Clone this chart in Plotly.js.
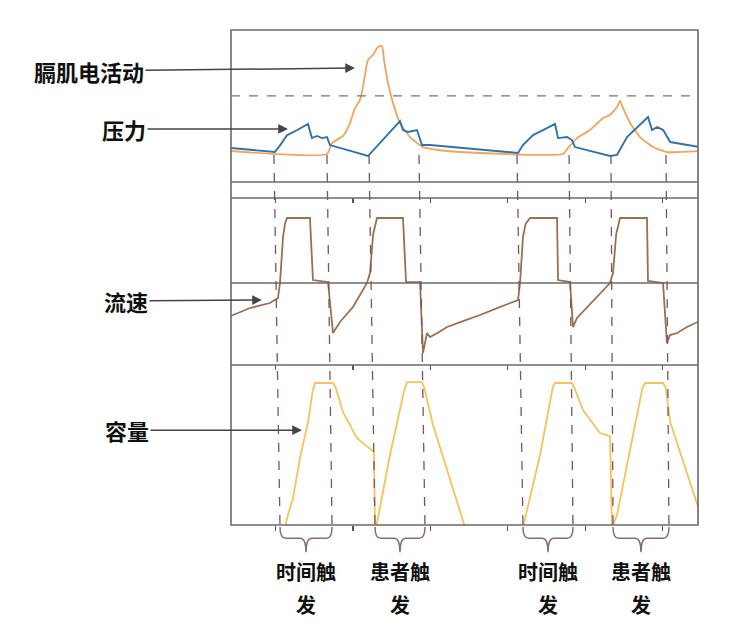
<!DOCTYPE html>
<html>
<head>
<meta charset="utf-8">
<script src="https://cdn.plot.ly/plotly-3.0.1.min.js"></script>
<style>html,body{margin:0;padding:0;background:#fff}#chart{width:737px;height:629px}</style>
</head>
<body>
<div id="chart"></div>
<script>
// time in s, one tick per second
const pressureT = [0.42, 0.99, 1.06, 1.15, 1.28, 1.42, 1.44, 1.47, 1.535, 1.6, 1.664, 1.703, 2.194, 2.388, 2.607, 2.646, 2.711, 2.827, 2.891, 2.995, 3.421, 4.132, 4.196, 4.326, 4.455, 4.61, 4.649, 4.765, 4.829, 4.868, 5.32, 5.411, 5.54, 5.811, 5.863, 5.93, 6.008, 6.098, 6.48];
const pressure = [2.24, 1.97, 2.43, 3.09, 3.42, 3.82, 3.42, 2.89, 3.03, 2.89, 2.96, 2.43, 1.71, 2.76, 4.01, 3.42, 3.29, 3.42, 2.43, 2.43, 2.24, 1.91, 2.43, 3.09, 3.42, 3.82, 2.89, 2.96, 2.76, 2.3, 1.71, 1.78, 2.96, 4.28, 3.42, 3.62, 3.42, 2.63, 2.3];

const eadiT = [0.42, 1.664, 1.729, 1.871, 1.961, 2.026, 2.09, 2.129, 2.194, 2.258, 2.323, 2.375, 2.401, 2.452, 2.517, 2.607, 2.736, 2.904, 3.215, 3.641, 4.713, 4.778, 4.894, 5.062, 5.23, 5.32, 5.411, 5.45, 5.488, 5.579, 5.708, 5.876, 6.059, 6.48];
const eadi = [2.04, 1.84, 2.57, 3.03, 3.88, 4.87, 5.39, 6.25, 8.03, 8.36, 8.88, 8.95, 8.03, 6.51, 5.2, 3.88, 2.96, 2.3, 2.04, 1.91, 1.84, 2.24, 2.89, 3.42, 4.21, 4.41, 4.93, 5.33, 4.87, 3.88, 2.96, 2.3, 1.97, 2.04];
const eadiThreshold = 5.66;

const flowT = [0.42, 0.669, 0.928, 1.031, 1.057, 1.096, 1.121, 1.147, 1.444, 1.483, 1.677, 1.742, 1.832, 2.0, 2.181, 2.22, 2.26, 2.31, 2.646, 2.685, 2.866, 2.904, 2.956, 2.995, 3.09, 3.215, 3.421, 3.641, 3.863, 4.132, 4.158, 4.196, 4.23, 4.287, 4.636, 4.649, 4.804, 4.842, 4.894, 5.152, 5.32, 5.359, 5.4, 5.45, 5.798, 5.811, 6.005, 6.056, 6.095, 6.186, 6.315, 6.48];
const flow = [-0.508, -0.385, -0.308, -0.231, 0, 0.708, 0.908, 1.0, 1.0, 0.046, 0.015, -0.769, -0.6, -0.369, 0, 0.154, 0.75, 1.0, 1.0, 0.015, 0.015, -1.077, -0.769, -0.831, -0.77, -0.677, -0.585, -0.492, -0.385, -0.262, 0, 0.708, 0.908, 1.0, 1.0, 0.046, 0.015, -0.677, -0.538, -0.215, 0, 0.154, 0.75, 1.0, 1.0, 0.031, 0, -0.923, -0.8, -0.769, -0.677, -0.585];

const volumeT = [1.121, 1.16, 1.225, 1.315, 1.419, 1.48, 1.509, 1.742, 1.78, 1.871, 2.052, 2.245, 2.271, 2.284, 2.31, 2.478, 2.66, 2.698, 2.891, 2.92, 3.034, 3.447, 4.196, 4.416, 4.58, 4.61, 4.829, 4.86, 4.971, 5.191, 5.32, 5.346, 5.411, 5.74, 5.775, 6.008, 6.04, 6.098, 6.48];
const volume = [-8, 35, 94, 234, 360, 470, 497, 497, 478, 395, 304, 262, 255, -8, 7, 245, 470, 500, 500, 480, 350, -8, -8, 245, 480, 497, 497, 480, 402, 322, 311, -8, 35, 480, 497, 497, 480, 360, 45];

const triggerTop = [0.979, 1.664, 2.207, 2.853, 4.119, 4.791, 5.333, 6.044];
const triggerBottom = [1.057, 1.729, 2.284, 2.93, 4.196, 4.842, 5.359, 6.082];
const triggerLabels = [["时间触", "发"], ["患者触", "发"], ["时间触", "发"], ["患者触", "发"]];
const tickTimes = [1, 2, 3, 4, 5, 6];
const xRange = [0.424, 6.457];

const cjk = "Noto Sans CJK SC, Noto Sans, sans-serif";
const frameColor = "#6a6a6a";
const dashColor = "#7a5560";
const braceColor = "#8c6a72";

const traces = [
  { x: eadiT, y: eadi, xaxis: "x", yaxis: "y", mode: "lines", line: { color: "#f0a45c", width: 1.8, shape: "spline", smoothing: 0.5 } },
  { x: pressureT, y: pressure, xaxis: "x", yaxis: "y", mode: "lines", line: { color: "#2f72ab", width: 1.9 } },
  { x: flowT, y: flow, xaxis: "x2", yaxis: "y2", mode: "lines", line: { color: "#9c6f4e", width: 1.8 } },
  { x: volumeT, y: volume, xaxis: "x3", yaxis: "y3", mode: "lines", line: { color: "#f5c35a", width: 1.8 } },
  { x: [], y: [], xaxis: "x4", yaxis: "y3", mode: "lines" },
];

const bare = { showgrid: false, zeroline: false, showline: false, showticklabels: false, fixedrange: true };
const tickAxis = (anchor, side, ticks) => ({
  ...bare, range: xRange, anchor: anchor, side: side, ticks: ticks,
  tickvals: tickTimes, ticklen: 5, tickwidth: 1.3, tickcolor: "#555",
});

const shapes = [
  { type: "rect", xref: "paper", yref: "paper", x0: 0, x1: 1, y0: 0, y1: 1, line: { color: frameColor, width: 1.6 } },
  { type: "line", xref: "paper", yref: "paper", x0: 0, x1: 1, y0: 0.6929, y1: 0.6929, line: { color: frameColor, width: 1.4 } },
  { type: "line", xref: "paper", yref: "paper", x0: 0, x1: 1, y0: 0.6606, y1: 0.6606, line: { color: frameColor, width: 1.4 } },
  { type: "line", xref: "paper", yref: "paper", x0: 0, x1: 1, y0: 0.3232, y1: 0.3232, line: { color: frameColor, width: 1.4 } },
  { type: "line", xref: "paper", yref: "y2", x0: 0, x1: 1, y0: 0, y1: 0, line: { color: frameColor, width: 1.4 } },
  { type: "line", xref: "paper", yref: "y", x0: 0, x1: 1, y0: eadiThreshold, y1: eadiThreshold, line: { color: "#777", width: 1.3, dash: "dash" } },
];

triggerTop.forEach((t, i) => {
  shapes.push({
    type: "line", xref: "x", yref: "paper", x0: t, x1: triggerBottom[i], y0: 0.7475, y1: -0.004,
    line: { color: dashColor, width: 1.3, dash: "dash" },
  });
});

const annotations = [];
const y0 = -0.004, y1 = -0.027, y2 = -0.055, r = 0.075;
for (let k = 0; k < triggerBottom.length; k += 2) {
  const a = triggerBottom[k], b = triggerBottom[k + 1], c = (a + b) / 2;
  shapes.push({
    type: "path", xref: "x", yref: "paper",
    path: `M ${a},${y0} Q ${a},${y1} ${a + r},${y1} L ${c - r},${y1} Q ${c},${y1} ${c},${y2} ` +
          `Q ${c},${y1} ${c + r},${y1} L ${b - r},${y1} Q ${b},${y1} ${b},${y0}`,
    line: { color: braceColor, width: 1.5 },
  });
  const lab = triggerLabels[k / 2];
  annotations.push({ x: c, y: -0.0949, xref: "x", yref: "paper", xanchor: "center", yanchor: "middle",
    text: lab[0], showarrow: false, font: { family: cjk, size: 20, color: "#111", weight: 700 } });
  annotations.push({ x: c, y: -0.1616, xref: "x", yref: "paper", xanchor: "center", yanchor: "middle",
    text: lab[1], showarrow: false, font: { family: cjk, size: 20, color: "#111", weight: 700 } });
}

const arrowLabel = (text, x, y, xref, yref, ax, ay) => ({
  text: text, x: x, y: y, xref: xref, yref: yref, ax: ax, ay: ay, axref: "pixel", ayref: "pixel",
  showarrow: true, arrowhead: 2, arrowsize: 1.3, arrowwidth: 1.5, arrowcolor: "#444", standoff: 0,
  font: { family: cjk, size: 22, color: "#111", weight: 700 },
});
annotations.push(arrowLabel("膈肌电活动", 2.026, 7.5, "x", "y", -266, 3));
annotations.push(arrowLabel("压力", 1.16, 3.49, "x", "y", -164, 0));
annotations.push(arrowLabel("流速", 0.824, -0.262, "x2", "y2", -136, 1));
annotations.push(arrowLabel("容量", 1.341, 332, "x3", "y3", -175, 0));

const layout = {
  width: 737, height: 629,
  margin: { l: 231, r: 39, t: 30, b: 104 },
  paper_bgcolor: "#fff", plot_bgcolor: "#fff",
  showlegend: false,
  xaxis: { ...bare, range: xRange, anchor: "y" },
  xaxis2: tickAxis("y2", "top", "inside"),
  xaxis3: tickAxis("y3", "top", "inside"),
  xaxis4: { ...tickAxis("y3", "bottom", "outside"), overlaying: "x3" },
  yaxis: { ...bare, domain: [0.6929, 1], range: [0, 10] },
  yaxis2: { ...bare, domain: [0.3232, 0.6606], range: [-1.2615, 1.3077] },
  yaxis3: { ...bare, domain: [0, 0.3232], range: [0, 560] },
  shapes: shapes,
  annotations: annotations,
};

Plotly.newPlot("chart", traces, layout, { staticPlot: true });
</script>
</body>
</html>
